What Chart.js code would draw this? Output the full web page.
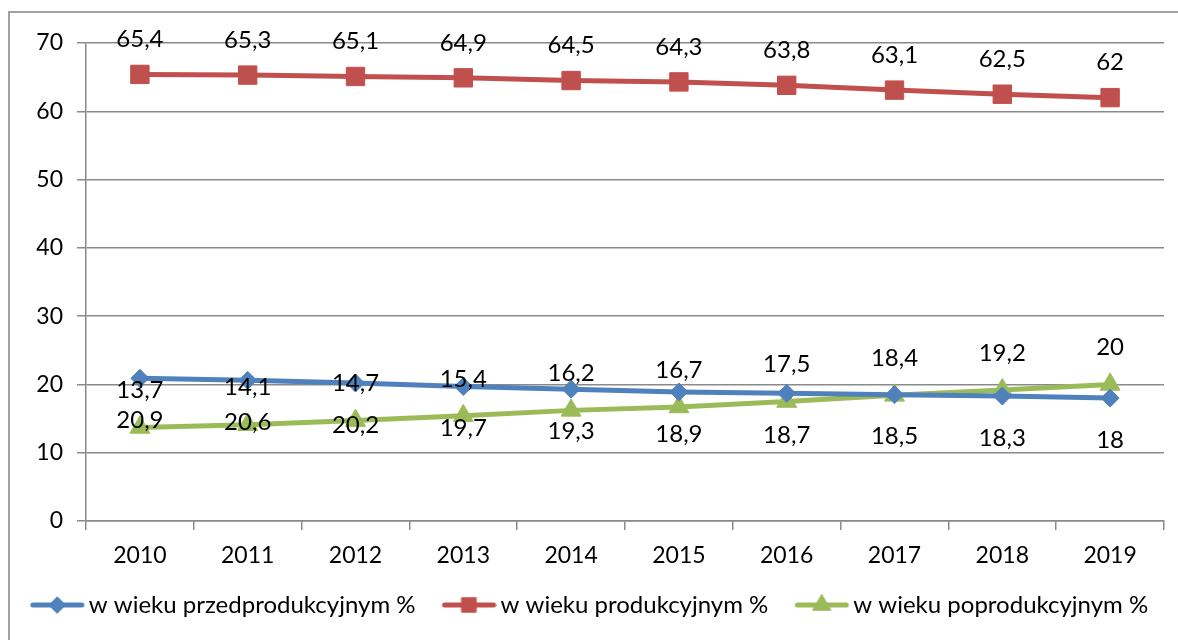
<!DOCTYPE html>
<html>
<head>
<meta charset="utf-8">
<script src="https://cdn.jsdelivr.net/npm/chart.js@4.4.1/dist/chart.umd.min.js"></script>
<style>
  html, body { margin: 0; padding: 0; background: #ffffff; }
  #wrap { position: relative; width: 1178px; height: 640px; }
  #frame { position: absolute; left: 8px; top: 11px; width: 1200px; height: 700px;
           border-left: 2px solid #a0a0a0; border-top: 2px solid #a0a0a0; pointer-events: none; }
  canvas { position: absolute; left: 0; top: 0; }
</style>
</head>
<body>
<div id="wrap">
  <div id="frame"></div>
  <canvas id="c" width="1178" height="640"></canvas>
</div>
<script>
const categories = ['2010','2011','2012','2013','2014','2015','2016','2017','2018','2019'];
const przedprodukcyjny = [20.9, 20.6, 20.2, 19.7, 19.3, 18.9, 18.7, 18.5, 18.3, 18];
const produkcyjny = [65.4, 65.3, 65.1, 64.9, 64.5, 64.3, 63.8, 63.1, 62.5, 62];
const poprodukcyjny = [13.7, 14.1, 14.7, 15.4, 16.2, 16.7, 17.5, 18.4, 19.2, 20];
const seriesNames = ['w wieku przedprodukcyjnym %', 'w wieku produkcyjnym %', 'w wieku poprodukcyjnym %'];
const yTicks = [0, 10, 20, 30, 40, 50, 60, 70];

const FONT = 'Lato';
const TICK_FS = 23, LABEL_FS = 24, LEGEND_FS = 24;
const BLUE = '#4F81BD', RED = '#C0504D', GREEN = '#9BBB59';
const GRID = '#8a8a8a';

// legend icon: transparent left margin, then a 55px line with marker
function legendIcon(color, style, radius) {
  const m = 18, w = 55;
  const c = document.createElement('canvas');
  c.width = w + m; c.height = 26;
  const g = c.getContext('2d');
  g.strokeStyle = color; g.lineWidth = 5; g.lineCap = 'round';
  g.beginPath(); g.moveTo(m + 3, 13); g.lineTo(m + w - 3, 13); g.stroke();
  g.fillStyle = color; g.strokeStyle = color; g.lineWidth = 1;
  Chart.helpers.drawPoint(g, {pointStyle: style, radius: radius, borderWidth: 1, rotation: 0}, m + w / 2, 13);
  g.fill();
  return c;
}

const styles = [
  {color: BLUE, point: 'rectRot', r: 9, labelPos: 'below', off: 42},
  {color: RED, point: 'rect', r: 13, labelPos: 'above', off: 35},
  {color: GREEN, point: 'triangle', r: 11.5, labelPos: 'above', off: 37}
];
const values = [przedprodukcyjny, produkcyjny, poprodukcyjny];

const datasets = values.map((v, i) => ({
  label: seriesNames[i],
  data: v,
  borderColor: styles[i].color,
  backgroundColor: styles[i].color,
  borderWidth: 5,
  pointStyle: styles[i].point,
  pointRadius: styles[i].r,
  pointHoverRadius: styles[i].r,
  pointBorderWidth: 1,
  pointBackgroundColor: styles[i].color,
  pointBorderColor: styles[i].color,
  tension: 0,
  clip: false
}));

const dataLabels = {
  id: 'dataLabels',
  afterDatasetsDraw(chart) {
    const ctx = chart.ctx;
    ctx.save();
    ctx.font = LABEL_FS + 'px ' + FONT;
    ctx.fillStyle = '#000';
    ctx.textAlign = 'center';
    ctx.textBaseline = 'middle';
    chart.data.datasets.forEach((ds, di) => {
      const meta = chart.getDatasetMeta(di);
      const s = styles[di];
      meta.data.forEach((pt, i) => {
        const txt = String(ds.data[i]).replace('.', ',');
        const y = s.labelPos === 'above' ? pt.y - s.off : pt.y + s.off;
        ctx.fillText(txt, pt.x, y);
      });
    });
    ctx.restore();
  }
};

new Chart(document.getElementById('c'), {
  type: 'line',
  data: { labels: categories, datasets: datasets },
  options: {
    responsive: false,
    animation: false,
    events: [],
    layout: { padding: { top: 43, right: 10, bottom: 13, left: 0 } },
    plugins: {
      tooltip: { enabled: false },
      legend: {
        position: 'bottom',
        align: 'center',
        labels: {
          font: { family: FONT, size: LEGEND_FS },
          color: '#000',
          usePointStyle: true,
          pointStyleWidth: 57,
          padding: 16,
          generateLabels(chart) {
            return chart.data.datasets.map((ds, i) => ({
              text: ds.label,
              pointStyle: legendIcon(styles[i].color, styles[i].point, styles[i].r * (i === 1 ? 0.78 : 0.9)),
              fillStyle: styles[i].color,
              strokeStyle: styles[i].color,
              lineWidth: 0,
              hidden: false,
              datasetIndex: i,
              fontColor: '#000'
            }));
          }
        }
      }
    },
    scales: {
      x: {
        offset: true,
        grid: { offset: true, drawOnChartArea: false, drawTicks: true, tickLength: 9, color: GRID, lineWidth: 1.5 },
        border: { display: true, color: GRID, width: 1.5 },
        ticks: { font: { family: FONT, size: TICK_FS }, color: '#000', padding: 12, maxRotation: 0 },
        afterFit(s) { s.height = 56; }
      },
      y: {
        min: 0, max: 70,
        afterBuildTicks(s) { s.ticks = yTicks.map(v => ({ value: v })); },
        grid: { color: GRID, lineWidth: 1.5, tickLength: 9, drawTicks: true },
        border: { display: true, color: GRID, width: 1.5 },
        ticks: { font: { family: FONT, size: TICK_FS }, color: '#000', padding: 14 },
        afterFit(s) { s.width = 86; }
      }
    }
  },
  plugins: [dataLabels]
});
</script>
</body>
</html>
